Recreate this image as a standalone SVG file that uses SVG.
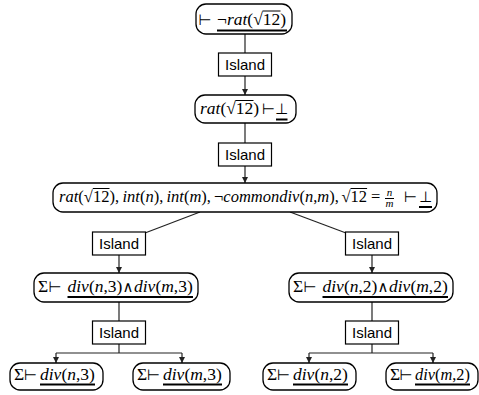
<svg xmlns="http://www.w3.org/2000/svg" width="479" height="395" viewBox="0 0 479 395">
<style>
.box{fill:#fff;stroke:#000;stroke-width:1.3}
.isl{fill:#fff;stroke:#000;stroke-width:1.2}
.m{font-family:"Liberation Serif","DejaVu Serif",serif;font-size:17.5px;fill:#000}
.i{font-style:italic}
.sym{font-family:"DejaVu Sans",sans-serif;font-size:15px;text-anchor:middle;fill:#000}
.and{font-family:"DejaVu Serif",serif;font-size:15px;text-anchor:middle;fill:#000}
.fr{font-family:"Liberation Serif",serif;font-style:italic;font-size:11px;text-anchor:middle}
.ul{stroke:#000;stroke-width:2}
.ol{stroke:#000;stroke-width:1}
.lbl{font-family:"Liberation Sans",Arial,sans-serif;font-size:15px;text-anchor:middle;fill:#000}
.edge{stroke:#222;stroke-width:1.2;fill:none}
</style>
<defs>
<marker id="arr" markerUnits="userSpaceOnUse" markerWidth="6" markerHeight="7" refX="6" refY="3" orient="auto">
<path d="M0,0 L6,3 L0,6 Z" fill="#222"/>
</marker>
</defs>
<g id="connectors">
<line class="edge" x1="245" y1="34" x2="245" y2="53"/>
<line class="edge" x1="245" y1="76" x2="245" y2="95" marker-end="url(#arr)"/>
<line class="edge" x1="245" y1="123" x2="245" y2="143"/>
<line class="edge" x1="245" y1="166" x2="245" y2="183" marker-end="url(#arr)"/>
<line class="edge" x1="200" y1="212" x2="145" y2="233"/>
<line class="edge" x1="290" y1="212" x2="346" y2="233"/>
<line class="edge" x1="119" y1="255" x2="119" y2="273" marker-end="url(#arr)"/>
<line class="edge" x1="372" y1="255" x2="372" y2="273" marker-end="url(#arr)"/>
<line class="edge" x1="119" y1="302" x2="119" y2="321"/>
<line class="edge" x1="372" y1="302" x2="372" y2="321"/>
<path class="edge" d="M119,344 V353 M56,353 H182"/>
<line class="edge" x1="56" y1="353" x2="56" y2="363" marker-end="url(#arr)"/>
<line class="edge" x1="182" y1="353" x2="182" y2="363" marker-end="url(#arr)"/>
<path class="edge" d="M372,344 V353 M309,353 H433"/>
<line class="edge" x1="309" y1="353" x2="309" y2="363" marker-end="url(#arr)"/>
<line class="edge" x1="433" y1="353" x2="433" y2="363" marker-end="url(#arr)"/>
</g>
<g id="n1">
<rect class="box" x="196" y="4" width="96" height="30" rx="10"/>
<text class="sym" x="205" y="25">⊢</text>
<text class="m" x="217" y="25">¬<tspan class="i">rat</tspan>(√12)</text>
<line class="ol" x1="262.5" y1="11" x2="280.5" y2="11"/>
<line class="ul" x1="217" y1="30.5" x2="287" y2="30.5"/>
</g>
<g id="island1">
<rect class="isl" x="218.5" y="53" width="53" height="23"/>
<text class="lbl" x="245" y="70">Island</text>
</g>
<g id="n2">
<rect class="box" x="195" y="95" width="101" height="28" rx="10"/>
<text class="m" x="200" y="114"><tspan class="i">rat</tspan>(√12)</text>
<line class="ol" x1="235.5" y1="100.5" x2="253.5" y2="100.5"/>
<text class="sym" x="268.5" y="114">⊢</text>
<text class="sym" x="281.5" y="114">⊥</text>
<line class="ul" x1="276" y1="119.5" x2="287.5" y2="119.5"/>
</g>
<g id="island2">
<rect class="isl" x="218.5" y="143" width="53" height="23"/>
<text class="lbl" x="245" y="160">Island</text>
</g>
<g id="n3">
<rect class="box" x="53" y="183" width="384" height="29" rx="10"/>
<text class="m" style="font-size:16.5px" y="202"><tspan x="59" class="i">rat</tspan><tspan>(√</tspan><tspan x="93">12</tspan><tspan x="109.5">),</tspan><tspan x="122.5" class="i">int</tspan><tspan>(</tspan><tspan class="i">n</tspan><tspan>),</tspan><tspan x="166.5" class="i">int</tspan><tspan>(</tspan><tspan class="i">m</tspan><tspan>),</tspan><tspan x="214">¬</tspan><tspan class="i">commondiv</tspan><tspan>(</tspan><tspan class="i">n</tspan><tspan>,</tspan><tspan class="i">m</tspan><tspan>),</tspan><tspan x="341.5">√12</tspan><tspan x="371">=</tspan></text>
<line class="ol" x1="92.8" y1="188.5" x2="109.5" y2="188.5"/>
<line class="ol" x1="350.5" y1="188.5" x2="367.1" y2="188.5"/>
<text class="fr" x="389.5" y="196">n</text>
<line class="ol" x1="385" y1="198.5" x2="394" y2="198.5"/>
<text class="fr" x="389.5" y="207">m</text>
<text class="sym" x="410.5" y="202">⊢</text>
<text class="sym" x="425.5" y="202">⊥</text>
<line class="ul" x1="419" y1="207" x2="432" y2="207"/>
</g>
<g id="islandL">
<rect class="isl" x="92.5" y="232" width="53" height="23"/>
<text class="lbl" x="119" y="249">Island</text>
</g>
<g id="islandR">
<rect class="isl" x="345.5" y="232" width="53" height="23"/>
<text class="lbl" x="372" y="249">Island</text>
</g>
<g id="nL">
<rect class="box" x="34" y="273" width="164" height="29" rx="10"/>
<text class="m" x="38" y="292">Σ</text>
<text class="sym" x="55" y="292">⊢</text>
<text class="m" x="67.5" y="292"><tspan class="i">div</tspan>(<tspan class="i">n</tspan>,3)</text>
<text class="and" x="128" y="292">∧</text>
<text class="m" x="134" y="292"><tspan class="i">div</tspan>(<tspan class="i">m</tspan>,3)</text>
<line class="ul" x1="67.5" y1="297" x2="193" y2="297"/>
</g>
<g id="nR">
<rect class="box" x="289" y="273" width="164" height="29" rx="10"/>
<text class="m" x="293" y="292">Σ</text>
<text class="sym" x="310" y="292">⊢</text>
<text class="m" x="322.5" y="292"><tspan class="i">div</tspan>(<tspan class="i">n</tspan>,2)</text>
<text class="and" x="383" y="292">∧</text>
<text class="m" x="389" y="292"><tspan class="i">div</tspan>(<tspan class="i">m</tspan>,2)</text>
<line class="ul" x1="322.5" y1="297" x2="448" y2="297"/>
</g>
<g id="islandLL">
<rect class="isl" x="92.5" y="321" width="53" height="23"/>
<text class="lbl" x="119" y="338">Island</text>
</g>
<g id="islandRR">
<rect class="isl" x="345.5" y="321" width="53" height="23"/>
<text class="lbl" x="372" y="338">Island</text>
</g>
<g id="leaf1">
<rect class="box" x="10" y="363" width="93" height="27" rx="10"/>
<text class="m" x="14" y="380">Σ</text>
<text class="sym" x="30.5" y="380">⊢</text>
<text class="m" x="40" y="380"><tspan class="i">div</tspan>(<tspan class="i">n</tspan>,3)</text>
<line class="ul" x1="40" y1="384.5" x2="95" y2="384.5"/>
</g>
<g id="leaf2">
<rect class="box" x="133" y="363" width="97" height="27" rx="10"/>
<text class="m" x="137" y="380">Σ</text>
<text class="sym" x="153.5" y="380">⊢</text>
<text class="m" x="163" y="380"><tspan class="i">div</tspan>(<tspan class="i">m</tspan>,3)</text>
<line class="ul" x1="163" y1="384.5" x2="222" y2="384.5"/>
</g>
<g id="leaf3">
<rect class="box" x="263" y="363" width="93" height="27" rx="10"/>
<text class="m" x="267" y="380">Σ</text>
<text class="sym" x="283.5" y="380">⊢</text>
<text class="m" x="293" y="380"><tspan class="i">div</tspan>(<tspan class="i">n</tspan>,2)</text>
<line class="ul" x1="293" y1="384.5" x2="348" y2="384.5"/>
</g>
<g id="leaf4">
<rect class="box" x="386" y="363" width="92" height="27" rx="10"/>
<text class="m" x="390" y="380">Σ</text>
<text class="sym" x="406" y="380">⊢</text>
<text class="m" x="415" y="380" textLength="55" lengthAdjust="spacingAndGlyphs"><tspan class="i">div</tspan>(<tspan class="i">m</tspan>,2)</text>
<line class="ul" x1="415" y1="384.5" x2="470" y2="384.5"/>
</g>
</svg>
